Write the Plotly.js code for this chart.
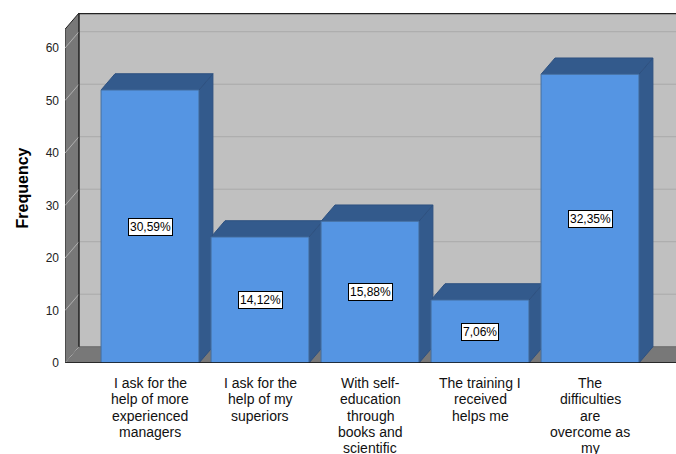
<!DOCTYPE html>
<html>
<head>
<meta charset="utf-8">
<script src="https://cdn.plot.ly/plotly-3.0.1.min.js"></script>
<style>html,body{margin:0;padding:0;background:#fff;}#chart{width:676px;height:454px;}</style>
</head>
<body>
<div id="chart"></div>
<script>
// ---- data ----
const categoryLines = [
  ["I ask for the", "help of more", "experienced", "managers"],
  ["I ask for the", "help of my", "superiors"],
  ["With self-", "education", "through", "books and", "scientific"],
  ["The training I", "received", "helps me"],
  ["The", "difficulties", "are", "overcome as", "my"]
];
const frequencies = [52, 24, 27, 12, 55];
const yTickValues = [0, 10, 20, 30, 40, 50, 60];

// ---- styling / geometry constants ----
const FONT = "Liberation Sans, Arial, sans-serif";
const W = 0.89;        // bar width (category units)
const DX = 0.127;      // 3D depth offset in x
const DY = 3.1;        // 3D depth offset in y
const XMIN = -0.7727, XMAX = 4.7818;
const YTOP = 66.67;
const FRONT = "#5595e3", DARK = "#335a8c", EDGE = "#456f9f";

const total = frequencies.reduce((a, b) => a + b, 0);
const xs = frequencies.map((_, i) => i);

function polyTrace(builder, color, lineColor) {
  const X = [], Y = [];
  frequencies.forEach((v, i) => {
    builder(i, v).forEach(p => { X.push(p[0]); Y.push(p[1]); });
    X.push(null); Y.push(null);
  });
  return {
    type: "scatter", mode: "lines", x: X, y: Y, fill: "toself",
    fillcolor: color, line: {color: lineColor, width: 1},
    hoverinfo: "skip", showlegend: false, connectgaps: false
  };
}

const sides = polyTrace((i, v) => {
  const xr = xs[i] + W / 2;
  return [[xr, 0], [xr, v], [xr + DX, v + DY], [xr + DX, DY], [xr, 0]];
}, DARK, "#2e5180");
const tops = polyTrace((i, v) => {
  const xl = xs[i] - W / 2, xr = xs[i] + W / 2;
  return [[xl, v], [xr, v], [xr + DX, v + DY], [xl + DX, v + DY], [xl, v]];
}, DARK, "#2e5180");
const fronts = polyTrace((i, v) => {
  const xl = xs[i] - W / 2, xr = xs[i] + W / 2;
  return [[xl, 0], [xl, v], [xr, v], [xr, 0], [xl, 0]];
}, FRONT, EDGE);

// ---- walls (decoration) ----
const shapes = [];
shapes.push({type: "rect", xref: "x", yref: "y", layer: "below",
  x0: XMIN + DX, x1: XMAX + 1, y0: DY, y1: YTOP + 5,
  fillcolor: "#c0c0c0", line: {width: 0}});
yTickValues.slice(1).forEach(v => shapes.push({type: "line", xref: "x", yref: "y", layer: "below",
  x0: XMIN + DX, x1: XMAX + 1, y0: v + DY, y1: v + DY, line: {color: "#a9a9a9", width: 1}}));
shapes.push({type: "path", xref: "x", yref: "y", layer: "below",
  path: `M${XMIN},0 L${XMIN + DX},${DY} L${XMAX + 1},${DY} L${XMAX + 1},0 Z`,
  fillcolor: "#787878", line: {color: "#6a6a6a", width: 1}});
shapes.push({type: "path", xref: "x", yref: "y", layer: "below",
  path: `M${XMIN},0 L${XMIN},${YTOP - DY} L${XMIN + DX},${YTOP} L${XMIN + DX},${DY} Z`,
  fillcolor: "#787878", line: {color: "#222", width: 1}});
yTickValues.forEach(v => shapes.push({type: "line", xref: "x", yref: "y", layer: "below",
  x0: XMIN, x1: XMIN + DX, y0: v, y1: v + DY, line: {color: "#b0b0b0", width: 1}}));
shapes.push({type: "line", xref: "x", yref: "y", layer: "below",
  x0: XMIN + DX, x1: XMIN + DX, y0: DY, y1: YTOP, line: {color: "#222", width: 1}});
shapes.push({type: "line", xref: "x", yref: "y", layer: "below",
  x0: XMIN + DX, x1: XMAX + 1, y0: YTOP - 0.1, y1: YTOP - 0.1, line: {color: "#222", width: 1.5}});
shapes.push({type: "line", xref: "x", yref: "y", layer: "above",
  x0: XMIN, x1: XMAX, y0: 0, y1: 0, line: {color: "#111", width: 1.5}});

// ---- annotations ----
const annotations = [];
frequencies.forEach((v, i) => {
  const pct = (v / total * 100).toFixed(2).replace(".", ",") + "%";
  annotations.push({x: xs[i], y: v / 2, xref: "x", yref: "y", text: pct, showarrow: false,
    bgcolor: "#ffffff", bordercolor: "#000000", borderwidth: 1, borderpad: 1,
    font: {family: FONT, size: 12, color: "#000"}});
});
categoryLines.forEach((lines, i) => {
  lines.forEach((t, j) => annotations.push({x: xs[i], y: 0, xref: "x", yref: "y",
    yanchor: "middle", yshift: -(20 + j * 16.3), text: t, showarrow: false,
    font: {family: FONT, size: 14, color: "#111"}}));
});

const layout = {
  width: 676, height: 454,
  margin: {l: 65, r: 0, t: 13, b: 91},
  paper_bgcolor: "#ffffff", plot_bgcolor: "#ffffff",
  showlegend: false,
  xaxis: {range: [XMIN, XMAX], showgrid: false, zeroline: false, showline: false,
    showticklabels: false, ticks: "", fixedrange: true},
  yaxis: {range: [0, YTOP], tickvals: yTickValues, showgrid: false, zeroline: false,
    showline: false, ticks: "", ticklabelstandoff: 5,
    tickfont: {family: FONT, size: 12, color: "#222"},
    title: {text: "Frequency", standoff: 13, font: {family: FONT, size: 16, color: "#000", weight: "bold"}},
    fixedrange: true},
  shapes: shapes,
  annotations: annotations,
  font: {family: FONT}
};

Plotly.newPlot("chart", [sides, tops, fronts], layout, {displayModeBar: false, staticPlot: true});
</script>
</body>
</html>
